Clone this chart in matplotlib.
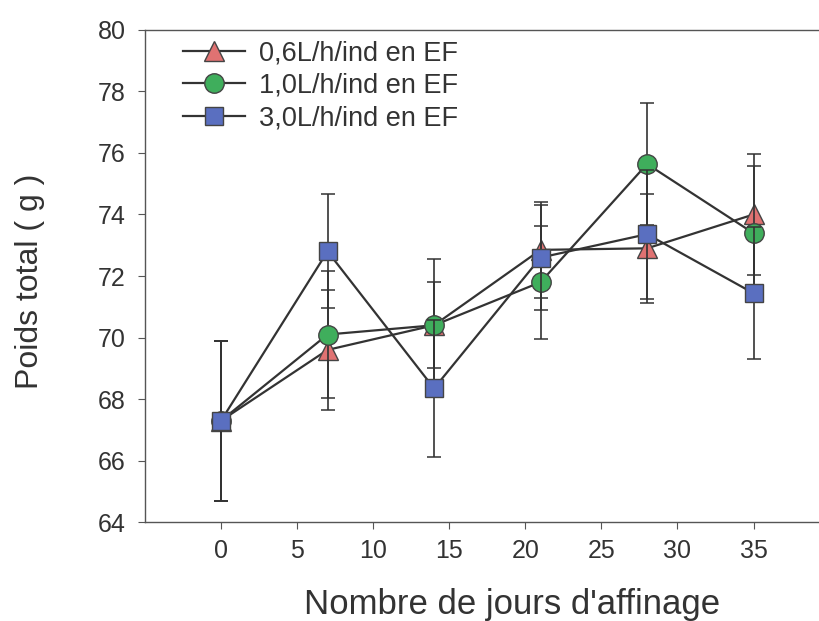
import matplotlib
matplotlib.use("Agg")
import matplotlib.pyplot as plt

# jours d'affinage
jours = [0, 7, 14, 21, 28, 35]

# poids total moyen (g) et ecart-type pour chaque debit
poids_06 = [67.3, 69.6, 70.4, 72.85, 72.9, 74.0]
err_06 = [2.6, 1.96, 1.4, 1.55, 1.77, 1.97]
poids_10 = [67.3, 70.1, 70.4, 71.8, 75.64, 73.39]
err_10 = [2.6, 2.07, 2.15, 1.83, 1.97, 2.19]
poids_30 = [67.3, 72.8, 68.35, 72.6, 73.36, 71.44]
err_30 = [2.6, 1.85, 2.23, 1.7, 2.09, 2.14]

labels = ["0,6L/h/ind en EF", "1,0L/h/ind en EF", "3,0L/h/ind en EF"]

plt.rcParams['font.family'] = ['Liberation Sans', 'DejaVu Sans']

fig = plt.figure(figsize=(8.19, 6.21), dpi=100)
ax = fig.add_axes([0.177, 0.159, 0.823, 0.793])

line_col = "#333333"
series = [
    (poids_06, err_06, "^", "#e07272", 14),
    (poids_10, err_10, "o", "#3fae5c", 14),
    (poids_30, err_30, "s", "#5a6fc0", 13),
]
handles = []
for (y, e, m, c, ms), lab in zip(series, labels):
    ax.errorbar(jours, y, yerr=e, fmt="none", ecolor=line_col,
                elinewidth=1.2, capsize=5, capthick=1.1)
    h, = ax.plot(jours, y, color=line_col, lw=1.6, marker=m, markersize=ms,
                 markerfacecolor=c, markeredgecolor="#444444",
                 markeredgewidth=1.0, label=lab)
    handles.append(h)

ax.set_xlim(-5, 39.3)
ax.set_ylim(64, 80)
ax.set_xticks([0, 5, 10, 15, 20, 25, 30, 35])
ax.set_yticks(range(64, 81, 2))

ax.spines["right"].set_visible(False)
for s in ["left", "bottom", "top"]:
    ax.spines[s].set_color("#555555")
    ax.spines[s].set_linewidth(1.0)

ax.tick_params(axis="x", direction="out", length=5, width=0.8,
               colors="#555555", labelcolor="#333333", labelsize=18, pad=7)
ax.tick_params(axis="y", direction="out", length=5, width=0.8,
               colors="#555555", labelcolor="#333333", labelsize=18, pad=9)

ax.set_xlabel("Nombre de jours d'affinage", fontsize=25, color="#333333")
ax.set_ylabel("Poids total ( g )", fontsize=23, color="#333333")
ax.xaxis.set_label_coords(0.545, -0.134)
ax.yaxis.set_label_coords(-0.148, 0.49)

leg = ax.legend(handles=handles, loc="upper left", bbox_to_anchor=(0.04, 1.0),
                frameon=False, fontsize=19.5, handlelength=2.3, labelspacing=0.23,
                handletextpad=0.5, numpoints=1, borderaxespad=0)
for t in leg.get_texts():
    t.set_color("#333333")

fig.savefig("out.png", dpi=100)
